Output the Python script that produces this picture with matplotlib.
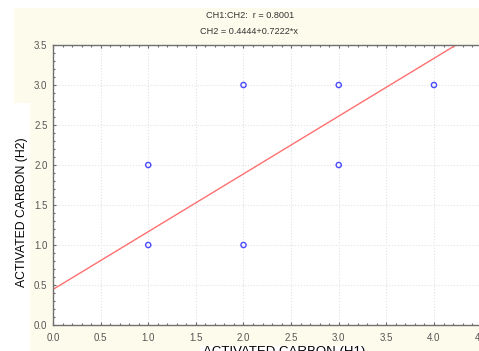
import numpy as np
import matplotlib.pyplot as plt
from matplotlib.patches import Rectangle
from matplotlib.ticker import MultipleLocator

# data points
x_vals = [1.0, 1.0, 2.0, 2.0, 3.0, 3.0, 4.0]
y_vals = [1.0, 2.0, 1.0, 3.0, 2.0, 3.0, 3.0]
intercept = 0.4444
slope = 0.7222
r_value = 0.8001

W, H = 479, 351
plt.rcParams['font.family'] = ['Liberation Sans', 'DejaVu Sans']

fig = plt.figure(figsize=(W / 100, H / 100), dpi=100)
fig.patch.set_facecolor('white')

# cream panel behind the plot, with white cut-outs like the original screenshot
cream = '#fdfbec'
fig.patches.append(Rectangle((14 / W, 0), 1 - 14 / W, 1 - 8 / H, transform=fig.transFigure,
                             facecolor=cream, edgecolor='none', zorder=-2))
fig.patches.append(Rectangle((0, 0), 30 / W, 1 - 103 / H, transform=fig.transFigure,
                             facecolor='white', edgecolor='none', zorder=-1))
fig.patches.append(Rectangle((200 / W, 0), 165 / W, 5 / H, transform=fig.transFigure,
                             facecolor='white', edgecolor='none', zorder=-1))

ax = fig.add_axes([53 / W, 26 / H, 428.6 / W, 280 / H])
ax.set_facecolor('white')

xs = np.linspace(0, 4.5, 50)
ax.plot(xs, intercept + slope * xs, color='#ff7070', lw=1.0, zorder=2)
ax.scatter(x_vals, y_vals, s=14, facecolors='none', edgecolors='#4a4aff', linewidths=1.0, zorder=3)

ax.set_xlim(0, 4.5)
ax.set_ylim(0, 3.5)
ax.xaxis.set_major_locator(MultipleLocator(0.5))
ax.yaxis.set_major_locator(MultipleLocator(0.5))
ax.xaxis.set_minor_locator(MultipleLocator(0.1))
ax.yaxis.set_minor_locator(MultipleLocator(0.1))
ax.xaxis.set_major_formatter(lambda v, p: f'{v:.1f}')
ax.yaxis.set_major_formatter(lambda v, p: f'{v:.1f}')
ax.grid(True, which='major', color='#e2e2e2', linestyle=':', lw=0.8)
ax.tick_params(which='both', direction='in', top=True, right=True, colors='#666666',
               labelsize=7, length=2.5, width=0.8)
ax.tick_params(which='minor', length=1.5)
ax.tick_params(axis='x', pad=6)
ax.tick_params(axis='y', pad=4)
for lab in ax.get_xticklabels() + ax.get_yticklabels():
    lab.set_color('#555555')
for s in ax.spines.values():
    s.set_color('#707070')
    s.set_linewidth(1.0)

fig.text(250 / W, 1 - 15 / H, f'CH1:CH2:  r = {r_value:.4f}', ha='center', va='center',
         fontsize=6.6, color='#333333')
fig.text(249 / W, 1 - 32 / H, f'CH2 = {intercept:.4f}+{slope:.4f}*x', ha='center', va='center',
         fontsize=6.6, color='#333333')
fig.text(22 / W, 1 - 212 / H, 'ACTIVATED CARBON (H2)', rotation=90, ha='center', va='center',
         fontsize=8.8, color='black')
fig.text(284 / W, 1 - 346 / H, 'ACTIVATED CARBON (H1)', ha='center', va='top',
         fontsize=9.5, color='black')

fig.savefig('out.png', dpi=100)
